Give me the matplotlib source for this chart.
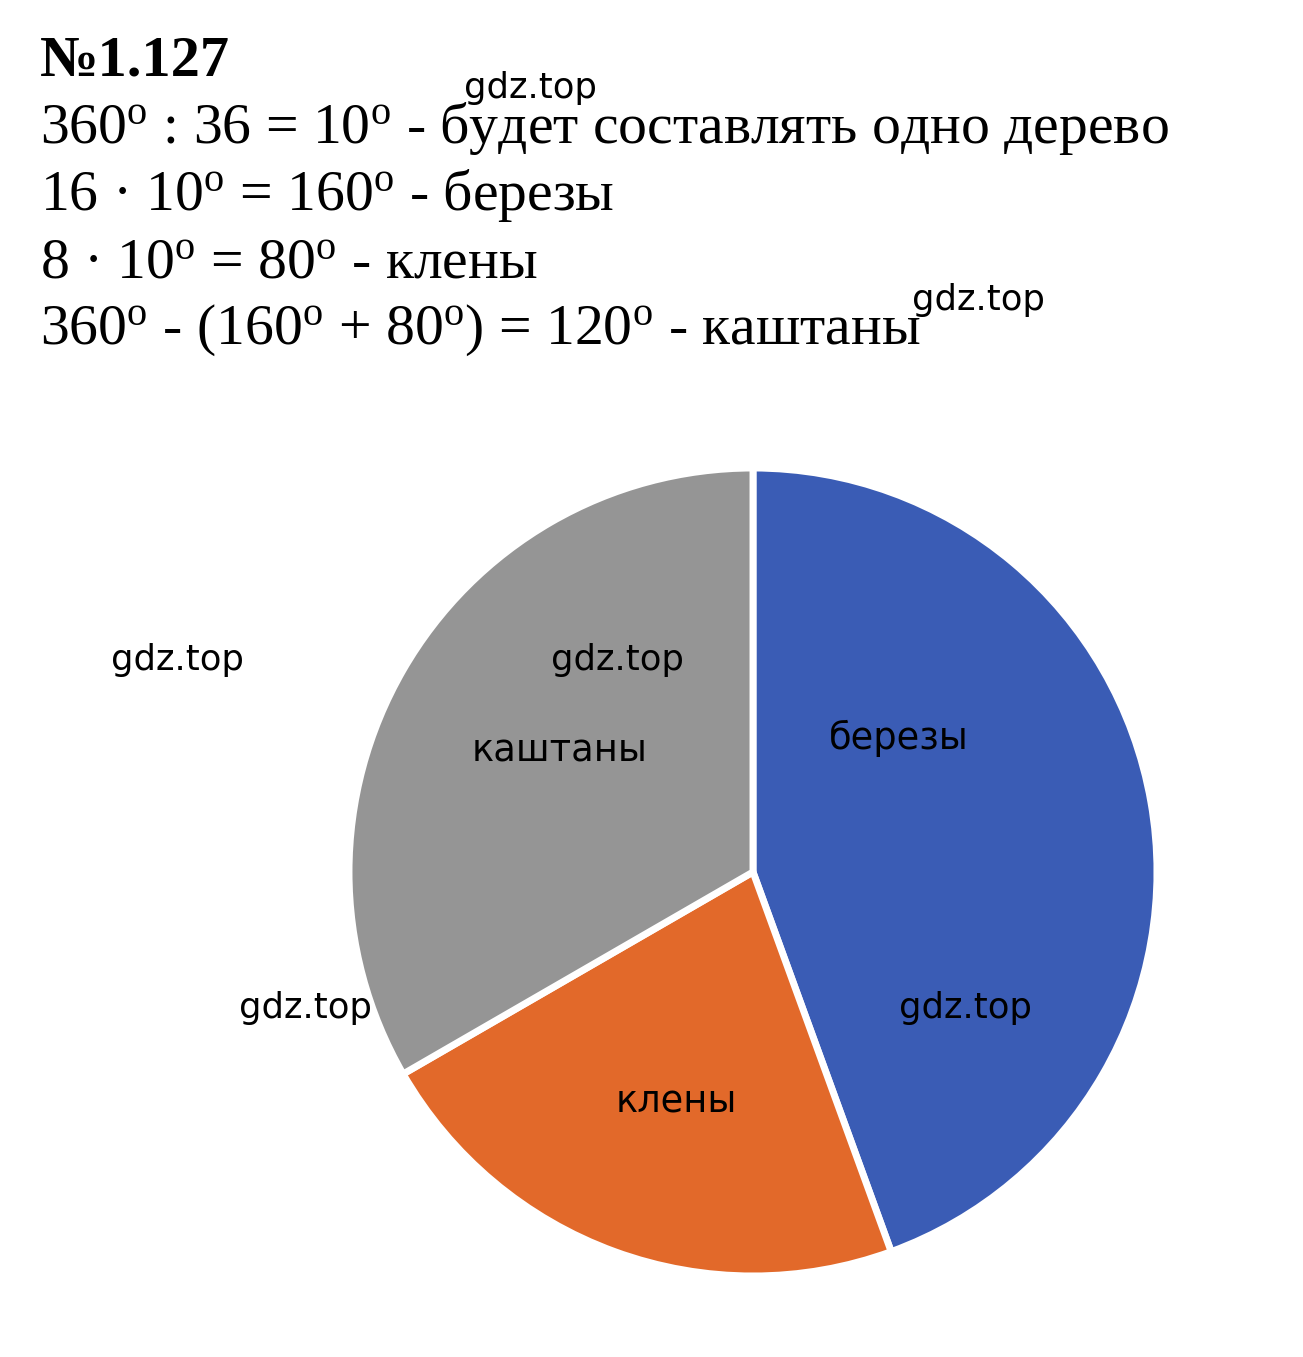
import matplotlib
matplotlib.use("Agg")
import matplotlib.pyplot as plt

plt.rcParams['mathtext.fontset'] = 'custom'
plt.rcParams['mathtext.rm'] = 'Liberation Serif'
plt.rcParams['mathtext.it'] = 'Liberation Serif:italic'
plt.rcParams['mathtext.bf'] = 'Liberation Serif:bold'

# Data
categories = ["березы", "клены", "каштаны"]
degrees = [160, 80, 120]
colors = ["#3A5CB5", "#E2692A", "#959595"]
label_xy = [(0.36, 0.33), (-0.19, -0.57), (-0.48, 0.30)]

title = "№1.127"
deg = r"$^{\mathrm{o}}$"
lines = [
    f"360{deg} : 36 = 10{deg} - будет составлять одно дерево",
    f"16 · 10{deg} = 160{deg} - березы",
    f"8 · 10{deg} = 80{deg} - клены",
    f"360{deg} - (160{deg} + 80{deg}) = 120{deg} - каштаны",
]
watermarks = [(530, 88), (978, 300), (177, 660), (617, 660), (305, 1008), (965, 1008)]

W, H = 1303, 1357
fig = plt.figure(figsize=(W / 100, H / 100), dpi=100)

serif = "Liberation Serif"
fig.text(40 / W, 1 - 76 / H, title, fontsize=42, fontweight="bold",
         family=serif, va="baseline", ha="left")
baselines = [143, 210, 277, 344]
for t, b in zip(lines, baselines):
    fig.text(40 / W, 1 - b / H, t, fontsize=41.5, family=serif,
             va="baseline", ha="left")

cx, cy, r = 753, 872, 404
ax = fig.add_axes([(cx - r) / W, (H - cy - r) / H, 2 * r / W, 2 * r / H])
ax.pie(degrees, colors=colors, startangle=90, counterclock=False,
       radius=1.0, wedgeprops=dict(edgecolor="white", linewidth=5))
ax.set_xlim(-1, 1)
ax.set_ylim(-1, 1)
ax.set_aspect("equal")
ax.axis("off")

for name, (x, y) in zip(categories, label_xy):
    ax.text(x, y, name, fontsize=26.5, family="DejaVu Sans",
            ha="center", va="center", color="black")

for (x, y) in watermarks:
    fig.text(x / W, 1 - y / H, "gdz.top", fontsize=25.5, family="DejaVu Sans",
             ha="center", va="center", color="black")

fig.savefig("out.png", dpi=100)
